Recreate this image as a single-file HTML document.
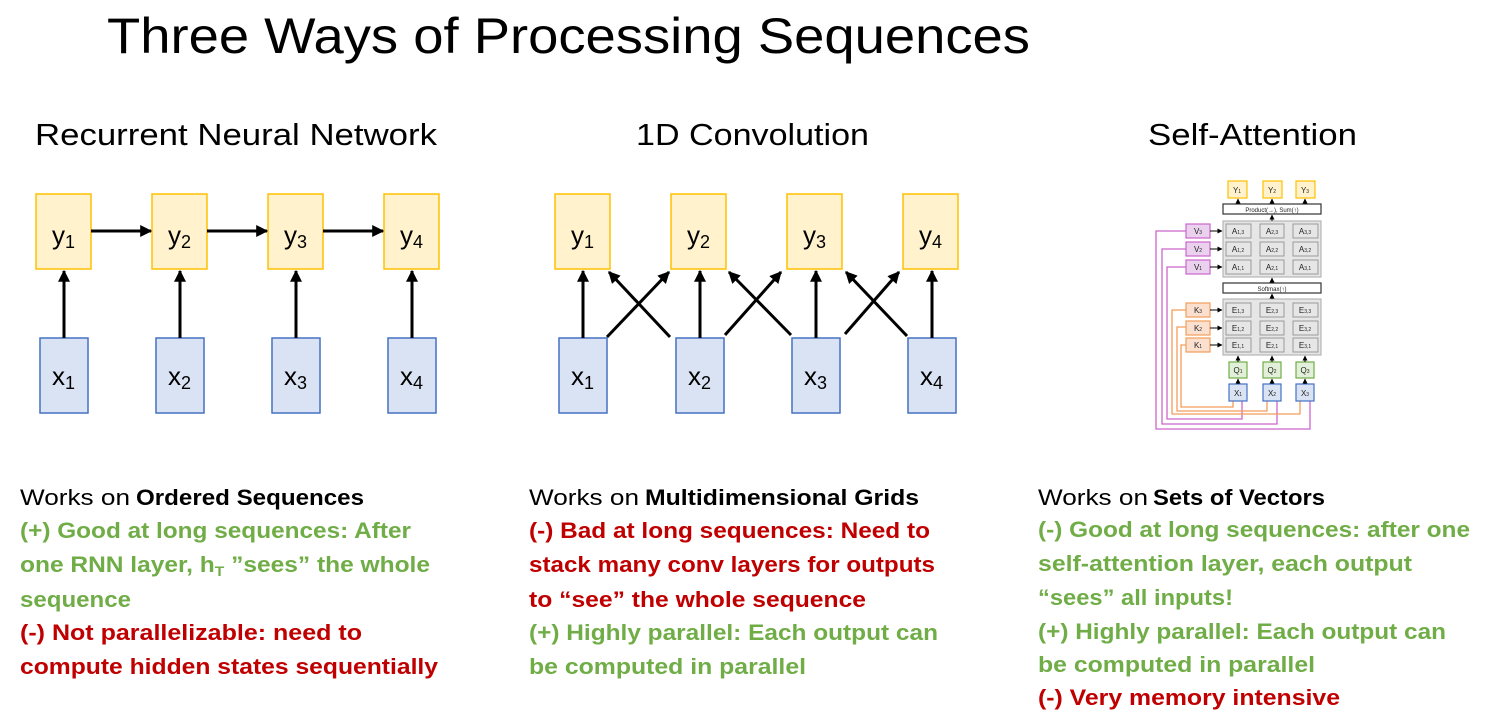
<!DOCTYPE html>
<html><head><meta charset="utf-8"><style>
html,body{margin:0;padding:0;background:#fff;}
svg{display:block;}
text{font-family:"Liberation Sans",sans-serif;}
</style></head><body>
<svg width="1494" height="724" viewBox="0 0 1494 724" xmlns="http://www.w3.org/2000/svg">
<defs>
<marker id="ah" viewBox="0 0 10 10" refX="9" refY="5" markerWidth="4" markerHeight="4" orient="auto"><path d="M0,0L10,5L0,10z" fill="#000"/></marker>
<marker id="as" viewBox="0 0 10 10" refX="9" refY="5" markerWidth="5" markerHeight="5" orient="auto"><path d="M0,0L10,5L0,10z" fill="#000"/></marker>
<marker id="ao" viewBox="0 0 10 10" refX="9" refY="5" markerWidth="5" markerHeight="5" orient="auto"><path d="M0,0L10,5L0,10z" fill="#f39c5b"/></marker>
<marker id="ap" viewBox="0 0 10 10" refX="9" refY="5" markerWidth="5" markerHeight="5" orient="auto"><path d="M0,0L10,5L0,10z" fill="#cc66cc"/></marker>
</defs>

<text x="107" y="53" font-size="50" textLength="923" lengthAdjust="spacingAndGlyphs">Three Ways of Processing Sequences</text>
<text x="35" y="145" font-size="31" textLength="402" lengthAdjust="spacingAndGlyphs">Recurrent Neural Network</text>
<text x="636" y="145" font-size="31" textLength="233" lengthAdjust="spacingAndGlyphs">1D Convolution</text>
<text x="1148" y="145" font-size="31" textLength="209" lengthAdjust="spacingAndGlyphs">Self-Attention</text>

<!-- RNN -->
<g stroke-width="1.5">
<rect x="36" y="194" width="55" height="75" fill="#fff2cc" stroke="#ffc000"/>
<rect x="152" y="194" width="55" height="75" fill="#fff2cc" stroke="#ffc000"/>
<rect x="268" y="194" width="55" height="75" fill="#fff2cc" stroke="#ffc000"/>
<rect x="384" y="194" width="55" height="75" fill="#fff2cc" stroke="#ffc000"/>
<rect x="40" y="338" width="48" height="75" fill="#dae3f3" stroke="#4472c4"/>
<rect x="156" y="338" width="48" height="75" fill="#dae3f3" stroke="#4472c4"/>
<rect x="272" y="338" width="48" height="75" fill="#dae3f3" stroke="#4472c4"/>
<rect x="388" y="338" width="48" height="75" fill="#dae3f3" stroke="#4472c4"/>
</g>
<g stroke="#000" stroke-width="3" marker-end="url(#ah)">
<line x1="64" y1="338" x2="64" y2="271"/>
<line x1="180" y1="338" x2="180" y2="271"/>
<line x1="296" y1="338" x2="296" y2="271"/>
<line x1="412" y1="338" x2="412" y2="271"/>
<line x1="91" y1="231" x2="151" y2="231"/>
<line x1="207" y1="231" x2="267" y2="231"/>
<line x1="323" y1="231" x2="383" y2="231"/>
</g>
<g font-size="26">
<text x="52" y="244">y<tspan font-size="18" dy="4">1</tspan></text>
<text x="168" y="244">y<tspan font-size="18" dy="4">2</tspan></text>
<text x="284" y="244">y<tspan font-size="18" dy="4">3</tspan></text>
<text x="400" y="244">y<tspan font-size="18" dy="4">4</tspan></text>
<text x="52" y="385">x<tspan font-size="18" dy="4">1</tspan></text>
<text x="168" y="385">x<tspan font-size="18" dy="4">2</tspan></text>
<text x="284" y="385">x<tspan font-size="18" dy="4">3</tspan></text>
<text x="400" y="385">x<tspan font-size="18" dy="4">4</tspan></text>
</g>

<!-- Conv -->
<g stroke-width="1.5">
<rect x="555" y="194" width="55" height="75" fill="#fff2cc" stroke="#ffc000"/>
<rect x="671" y="194" width="55" height="75" fill="#fff2cc" stroke="#ffc000"/>
<rect x="787" y="194" width="55" height="75" fill="#fff2cc" stroke="#ffc000"/>
<rect x="903" y="194" width="55" height="75" fill="#fff2cc" stroke="#ffc000"/>
<rect x="559" y="338" width="48" height="75" fill="#dae3f3" stroke="#4472c4"/>
<rect x="676" y="338" width="48" height="75" fill="#dae3f3" stroke="#4472c4"/>
<rect x="792" y="338" width="48" height="75" fill="#dae3f3" stroke="#4472c4"/>
<rect x="908" y="338" width="48" height="75" fill="#dae3f3" stroke="#4472c4"/>
</g>
<g stroke="#000" stroke-width="3" marker-end="url(#ah)">
<line x1="583" y1="338" x2="583" y2="271"/>
<line x1="700" y1="338" x2="700" y2="271"/>
<line x1="816" y1="338" x2="816" y2="271"/>
<line x1="932" y1="338" x2="932" y2="271"/>
<line x1="607" y1="337" x2="669" y2="272"/>
<line x1="670" y1="337" x2="609" y2="272"/>
<line x1="725" y1="335" x2="781" y2="272"/>
<line x1="791" y1="335" x2="729" y2="272"/>
<line x1="845" y1="334" x2="899" y2="272"/>
<line x1="907" y1="336" x2="846" y2="272"/>
</g>
<g font-size="26">
<text x="571" y="244">y<tspan font-size="18" dy="4">1</tspan></text>
<text x="687" y="244">y<tspan font-size="18" dy="4">2</tspan></text>
<text x="803" y="244">y<tspan font-size="18" dy="4">3</tspan></text>
<text x="919" y="244">y<tspan font-size="18" dy="4">4</tspan></text>
<text x="571" y="385">x<tspan font-size="18" dy="4">1</tspan></text>
<text x="688" y="385">x<tspan font-size="18" dy="4">2</tspan></text>
<text x="804" y="385">x<tspan font-size="18" dy="4">3</tspan></text>
<text x="920" y="385">x<tspan font-size="18" dy="4">4</tspan></text>
</g>

<!-- Self-attention -->
<g fill="none" stroke-width="1.3">
<polyline points="1186,231 1156,231 1156,429 1310,429 1310,401" stroke="#cc66cc"/>
<polyline points="1186,249 1162,249 1162,424 1277,424 1277,401" stroke="#cc66cc"/>
<polyline points="1186,267 1167,267 1167,419 1242,419 1242,401" stroke="#cc66cc"/>
<polyline points="1186,310 1172,310 1172,414 1300,414 1300,401" stroke="#f39c5b"/>
<polyline points="1186,327 1177,327 1177,411 1267,411 1267,401" stroke="#f39c5b"/>
<polyline points="1186,345 1181,345 1181,407 1233,407 1233,401" stroke="#f39c5b"/>
</g>
<rect x="1223" y="221" width="98" height="56" fill="#e7e6e6" stroke="#aaa"/>
<rect x="1223" y="299" width="98" height="56" fill="#e7e6e6" stroke="#aaa"/>
<g fill="#e7e6e6" stroke="#999" stroke-width="1">
<rect x="1226" y="224" width="25" height="14"/><rect x="1260" y="224" width="24" height="14"/><rect x="1293" y="224" width="25" height="14"/>
<rect x="1226" y="242" width="25" height="14"/><rect x="1260" y="242" width="24" height="14"/><rect x="1293" y="242" width="25" height="14"/>
<rect x="1226" y="260" width="25" height="14"/><rect x="1260" y="260" width="24" height="14"/><rect x="1293" y="260" width="25" height="14"/>
<rect x="1226" y="303" width="25" height="14"/><rect x="1260" y="303" width="24" height="14"/><rect x="1293" y="303" width="25" height="14"/>
<rect x="1226" y="321" width="25" height="14"/><rect x="1260" y="321" width="24" height="14"/><rect x="1293" y="321" width="25" height="14"/>
<rect x="1226" y="338" width="25" height="14"/><rect x="1260" y="338" width="24" height="14"/><rect x="1293" y="338" width="25" height="14"/>
</g>
<g stroke-width="1.2">
<rect x="1223" y="204" width="98" height="10" fill="#fff" stroke="#333"/>
<rect x="1223" y="283" width="98" height="10" fill="#fff" stroke="#333"/>
<rect x="1228" y="181" width="19" height="17" fill="#fff2cc" stroke="#ffc000"/>
<rect x="1263" y="181" width="19" height="17" fill="#fff2cc" stroke="#ffc000"/>
<rect x="1296" y="181" width="19" height="17" fill="#fff2cc" stroke="#ffc000"/>
<rect x="1186" y="224" width="24" height="14" fill="#ead1ee" stroke="#cc66cc"/>
<rect x="1186" y="242" width="24" height="14" fill="#ead1ee" stroke="#cc66cc"/>
<rect x="1186" y="260" width="24" height="14" fill="#ead1ee" stroke="#cc66cc"/>
<rect x="1186" y="303" width="24" height="14" fill="#fbe0cf" stroke="#f39c5b"/>
<rect x="1186" y="321" width="24" height="14" fill="#fbe0cf" stroke="#f39c5b"/>
<rect x="1186" y="338" width="24" height="14" fill="#fbe0cf" stroke="#f39c5b"/>
<rect x="1229" y="362" width="18" height="16" fill="#e2f0d9" stroke="#70ad47"/>
<rect x="1263" y="362" width="18" height="16" fill="#e2f0d9" stroke="#70ad47"/>
<rect x="1296" y="362" width="18" height="16" fill="#e2f0d9" stroke="#70ad47"/>
<rect x="1229" y="384" width="18" height="17" fill="#dae3f3" stroke="#4472c4"/>
<rect x="1263" y="384" width="18" height="17" fill="#dae3f3" stroke="#4472c4"/>
<rect x="1296" y="384" width="18" height="17" fill="#dae3f3" stroke="#4472c4"/>
</g>
<g stroke="#000" stroke-width="1" marker-end="url(#as)">
<line x1="1238" y1="204" x2="1238" y2="199"/><line x1="1272" y1="204" x2="1272" y2="199"/><line x1="1305" y1="204" x2="1305" y2="199"/>
<line x1="1272" y1="221" x2="1272" y2="215"/>
<line x1="1272" y1="283" x2="1272" y2="278"/>
<line x1="1272" y1="299" x2="1272" y2="294"/>
<line x1="1210" y1="231" x2="1222" y2="231"/><line x1="1210" y1="249" x2="1222" y2="249"/><line x1="1210" y1="267" x2="1222" y2="267"/>
<line x1="1210" y1="310" x2="1222" y2="310"/><line x1="1210" y1="328" x2="1222" y2="328"/><line x1="1210" y1="345" x2="1222" y2="345"/>
<line x1="1238" y1="362" x2="1238" y2="356"/><line x1="1272" y1="362" x2="1272" y2="356"/><line x1="1305" y1="362" x2="1305" y2="356"/>
<line x1="1238" y1="384" x2="1238" y2="379"/><line x1="1272" y1="384" x2="1272" y2="379"/><line x1="1305" y1="384" x2="1305" y2="379"/>
</g>
<g font-size="8" fill="#222" text-anchor="middle">
<text x="1237" y="193">Y<tspan font-size="5">1</tspan></text><text x="1272" y="193">Y<tspan font-size="5">2</tspan></text><text x="1305" y="193">Y<tspan font-size="5">3</tspan></text>
<text x="1272" y="212" font-size="6">Product(→),  Sum(↑)</text>
<text x="1272" y="291" font-size="6">Softmax(↑)</text>
<text x="1198" y="234">V<tspan font-size="5">3</tspan></text><text x="1198" y="252">V<tspan font-size="5">2</tspan></text><text x="1198" y="270">V<tspan font-size="5">1</tspan></text>
<text x="1198" y="313">K<tspan font-size="5">3</tspan></text><text x="1198" y="331">K<tspan font-size="5">2</tspan></text><text x="1198" y="348">K<tspan font-size="5">1</tspan></text>
<text x="1238" y="234">A<tspan font-size="5">1,3</tspan></text><text x="1272" y="234">A<tspan font-size="5">2,3</tspan></text><text x="1305" y="234">A<tspan font-size="5">3,3</tspan></text>
<text x="1238" y="252">A<tspan font-size="5">1,2</tspan></text><text x="1272" y="252">A<tspan font-size="5">2,2</tspan></text><text x="1305" y="252">A<tspan font-size="5">3,2</tspan></text>
<text x="1238" y="270">A<tspan font-size="5">1,1</tspan></text><text x="1272" y="270">A<tspan font-size="5">2,1</tspan></text><text x="1305" y="270">A<tspan font-size="5">3,1</tspan></text>
<text x="1238" y="313">E<tspan font-size="5">1,3</tspan></text><text x="1272" y="313">E<tspan font-size="5">2,3</tspan></text><text x="1305" y="313">E<tspan font-size="5">3,3</tspan></text>
<text x="1238" y="331">E<tspan font-size="5">1,2</tspan></text><text x="1272" y="331">E<tspan font-size="5">2,2</tspan></text><text x="1305" y="331">E<tspan font-size="5">3,2</tspan></text>
<text x="1238" y="348">E<tspan font-size="5">1,1</tspan></text><text x="1272" y="348">E<tspan font-size="5">2,1</tspan></text><text x="1305" y="348">E<tspan font-size="5">3,1</tspan></text>
<text x="1238" y="373">Q<tspan font-size="5">1</tspan></text><text x="1272" y="373">Q<tspan font-size="5">2</tspan></text><text x="1305" y="373">Q<tspan font-size="5">3</tspan></text>
<text x="1238" y="396">X<tspan font-size="5">1</tspan></text><text x="1272" y="396">X<tspan font-size="5">2</tspan></text><text x="1305" y="396">X<tspan font-size="5">3</tspan></text>
</g>

<!-- Text columns -->
<g font-size="22">
<text x="20" y="505" textLength="110" lengthAdjust="spacingAndGlyphs">Works on</text>
<text x="136" y="505" font-weight="bold" textLength="228" lengthAdjust="spacingAndGlyphs">Ordered Sequences</text>
<g font-weight="bold" fill="#70ad47">
<text x="20" y="538" textLength="391" lengthAdjust="spacingAndGlyphs">(+) Good at long sequences: After</text>
<text x="20" y="572" textLength="410" lengthAdjust="spacingAndGlyphs">one RNN layer, h<tspan font-size="14" dy="4">T</tspan><tspan dy="-4"> ”sees” the whole</tspan></text>
<text x="20" y="607" textLength="111" lengthAdjust="spacingAndGlyphs">sequence</text>
</g>
<g font-weight="bold" fill="#c00000">
<text x="20" y="640" textLength="342" lengthAdjust="spacingAndGlyphs">(-) Not parallelizable: need to</text>
<text x="20" y="674" textLength="418" lengthAdjust="spacingAndGlyphs">compute hidden states sequentially</text>
</g>

<text x="529" y="505" textLength="110" lengthAdjust="spacingAndGlyphs">Works on</text>
<text x="645" y="505" font-weight="bold" textLength="274" lengthAdjust="spacingAndGlyphs">Multidimensional Grids</text>
<g font-weight="bold" fill="#c00000">
<text x="529" y="538" textLength="401" lengthAdjust="spacingAndGlyphs">(-) Bad at long sequences: Need to</text>
<text x="529" y="572" textLength="406" lengthAdjust="spacingAndGlyphs">stack many conv layers for outputs</text>
<text x="529" y="607" textLength="337" lengthAdjust="spacingAndGlyphs">to “see” the whole sequence</text>
</g>
<g font-weight="bold" fill="#70ad47">
<text x="529" y="640" textLength="409" lengthAdjust="spacingAndGlyphs">(+) Highly parallel: Each output can</text>
<text x="529" y="674" textLength="277" lengthAdjust="spacingAndGlyphs">be computed in parallel</text>
</g>

<text x="1038" y="505" textLength="110" lengthAdjust="spacingAndGlyphs">Works on</text>
<text x="1153" y="505" font-weight="bold" textLength="172" lengthAdjust="spacingAndGlyphs">Sets of Vectors</text>
<g font-weight="bold" fill="#70ad47">
<text x="1038" y="537" textLength="432" lengthAdjust="spacingAndGlyphs">(-) Good at long sequences: after one</text>
<text x="1038" y="571" textLength="374" lengthAdjust="spacingAndGlyphs">self-attention layer, each output</text>
<text x="1038" y="605" textLength="195" lengthAdjust="spacingAndGlyphs">“sees” all inputs!</text>
<text x="1038" y="639" textLength="408" lengthAdjust="spacingAndGlyphs">(+) Highly parallel: Each output can</text>
<text x="1038" y="672" textLength="277" lengthAdjust="spacingAndGlyphs">be computed in parallel</text>
</g>
<text x="1038" y="705" font-weight="bold" fill="#c00000" textLength="302" lengthAdjust="spacingAndGlyphs">(-) Very memory intensive</text>
</g>
</svg>
</body></html>
